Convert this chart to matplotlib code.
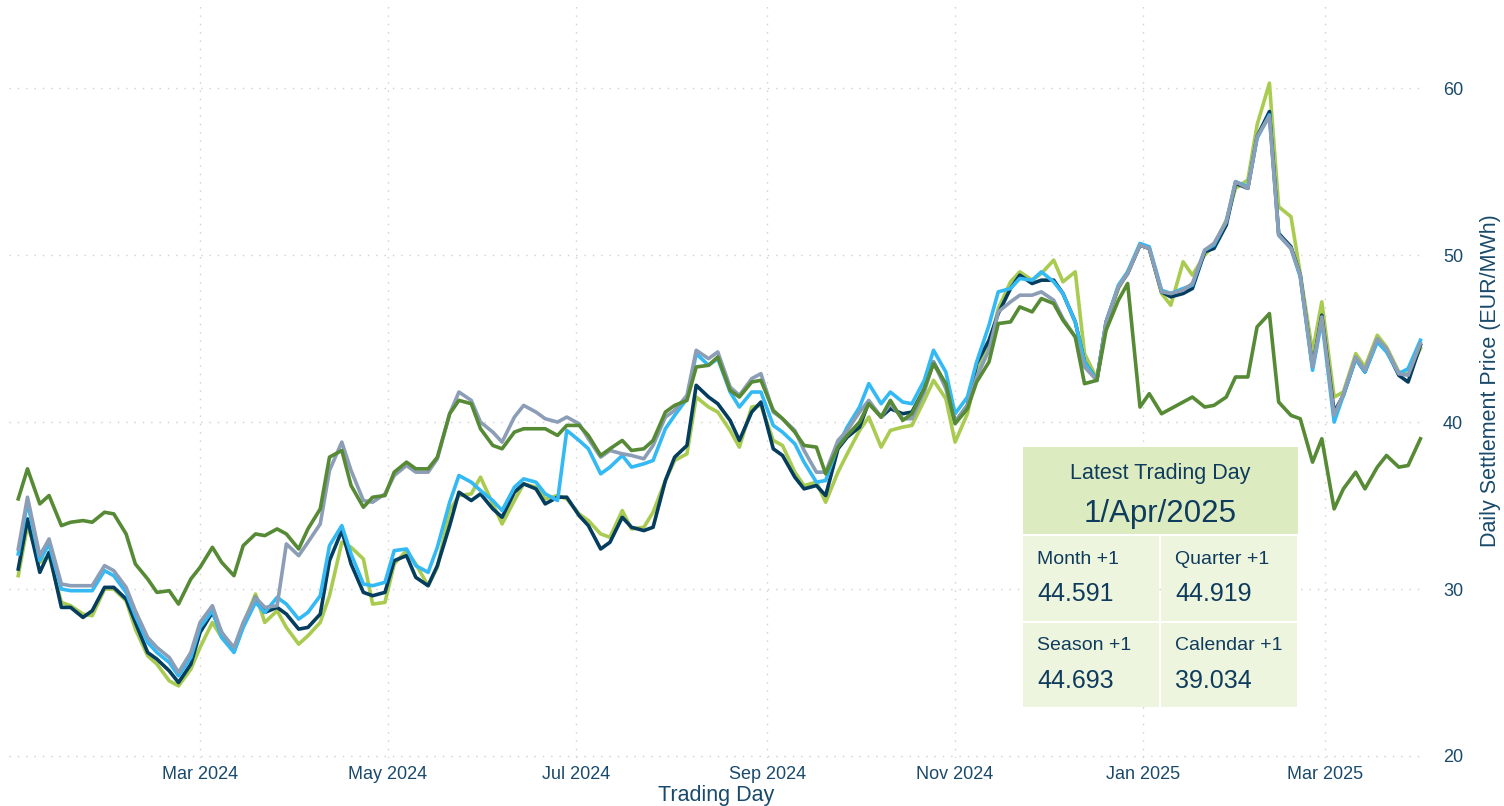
#!/usr/bin/env python3
"""Forward curve settlement prices with a latest-trading-day summary box."""

import matplotlib.pyplot as plt
import matplotlib.dates as mdates
import pandas as pd
from matplotlib.patches import Rectangle

# --- data: twice-weekly samples (Tue / Fri), Jan 2024 - Apr 2025 ---
TUESDAYS = pd.date_range("2024-01-02", "2025-04-01", freq="W-TUE")
FRIDAYS = pd.date_range("2024-01-05", "2025-03-28", freq="W-FRI")
DATES = TUESDAYS.union(FRIDAYS)
TICK_DATES = pd.date_range("2024-03-01", "2025-03-01", freq="2MS")

LIGHT_GREEN = [
    30.8, 33.8, 31.6, 32.0, 29.2, 29.0, 28.5, 28.4, 30.0, 30.0,
    29.3, 27.6, 26.0, 25.5, 24.5, 24.2, 25.2, 26.5, 28.0, 27.1,
    26.3, 27.9, 29.7, 28.0, 28.7, 27.7, 26.7, 27.2, 28.0, 29.6,
    32.8, 32.5, 31.8, 29.1, 29.2, 31.5, 32.3, 31.5, 30.2, 31.3,
    34.7, 35.6, 35.7, 36.7, 35.1, 33.9, 35.3, 36.3, 36.1, 35.4,
    35.6, 35.4, 34.5, 34.1, 33.3, 33.1, 34.7, 33.6, 33.7, 34.6,
    36.5, 37.7, 38.1, 41.5, 40.9, 40.6, 39.5, 38.5, 40.9, 41.0,
    38.9, 38.6, 37.0, 36.2, 36.4, 35.2, 37.0, 38.1, 39.5, 40.3,
    38.5, 39.5, 39.7, 39.8, 41.3, 42.5, 41.4, 38.8, 40.5, 43.0,
    44.5, 46.8, 48.4, 49.0, 48.5, 48.9, 49.7, 48.4, 49.0, 44.1,
    42.6, 45.8, 48.0, 49.0, 50.6, 50.4, 47.7, 47.0, 49.6, 48.8,
    50.0, 50.6, 52.1, 54.0, 54.5, 57.8, 60.3, 52.9, 52.3, 48.9,
    44.2, 47.2, 41.5, 41.8, 44.1, 43.3, 45.2, 44.5, 43.0, 42.9,
    44.4,
]
NAVY = [
    31.2, 34.2, 31.0, 32.2, 28.9, 28.9, 28.3, 28.7, 30.1, 30.1,
    29.4, 28.0, 26.2, 25.8, 25.1, 24.4, 25.5, 27.4, 28.6, 27.4,
    26.3, 27.8, 29.5, 28.6, 28.9, 28.5, 27.6, 27.7, 28.5, 31.7,
    33.5, 31.5, 29.8, 29.6, 29.8, 31.7, 32.0, 30.7, 30.2, 31.4,
    33.8, 35.8, 35.3, 35.7, 34.8, 34.3, 35.8, 36.3, 36.0, 35.1,
    35.5, 35.5, 34.4, 33.8, 32.4, 32.8, 34.3, 33.7, 33.5, 33.7,
    36.5, 37.9, 38.6, 42.2, 41.5, 41.1, 40.1, 38.9, 40.6, 41.2,
    38.4, 38.0, 36.7, 36.0, 36.2, 35.6, 38.4, 39.1, 39.7, 41.2,
    40.3, 40.8, 40.5, 40.6, 42.0, 43.6, 42.2, 40.0, 41.0, 43.5,
    44.9, 46.5, 48.0, 48.8, 48.3, 48.5, 48.5, 47.7, 46.0, 43.6,
    42.5, 46.0, 48.1, 48.9, 50.6, 50.4, 47.8, 47.5, 47.7, 48.0,
    50.2, 50.4, 51.8, 54.3, 54.0, 57.1, 58.6, 51.3, 50.5, 48.8,
    43.3, 46.4, 40.6, 41.6, 43.8, 43.0, 44.9, 44.3, 42.8, 42.4,
    44.6,
]
LIGHT_BLUE = [
    32.1, 35.2, 31.7, 32.7, 30.0, 29.9, 29.9, 29.9, 31.1, 30.8,
    29.8, 28.4, 26.8, 26.2, 25.6, 24.8, 25.9, 27.7, 28.7, 27.1,
    26.2, 27.7, 29.2, 28.6, 29.5, 29.1, 28.2, 28.6, 29.6, 32.6,
    33.8, 32.1, 30.3, 30.2, 30.4, 32.3, 32.4, 31.4, 31.0, 32.5,
    35.2, 36.8, 36.4, 35.9, 35.3, 34.7, 36.1, 36.6, 36.4, 35.7,
    35.3, 39.5, 38.9, 38.4, 36.9, 37.3, 38.0, 37.3, 37.5, 37.7,
    39.6, 40.4, 41.4, 44.1, 43.4, 43.8, 41.8, 40.9, 41.8, 41.8,
    39.8, 39.4, 38.7, 37.6, 36.4, 36.5, 38.6, 39.7, 40.9, 42.3,
    41.1, 41.8, 41.2, 41.1, 42.5, 44.3, 43.0, 40.5, 41.5, 43.6,
    45.8, 47.8, 48.0, 48.6, 48.5, 49.0, 48.4, 47.7, 46.0, 43.6,
    42.5, 46.0, 48.2, 49.0, 50.7, 50.5, 47.9, 47.7, 48.0, 48.2,
    50.3, 50.6, 52.0, 54.4, 54.1, 57.0, 58.4, 51.2, 50.4, 48.7,
    43.1, 46.1, 40.0, 41.6, 43.8, 43.0, 44.8, 44.2, 42.9, 43.2,
    44.9,
]
GREY_BLUE = [
    32.4, 35.5, 32.0, 33.0, 30.3, 30.2, 30.2, 30.2, 31.4, 31.1,
    30.1, 28.7, 27.1, 26.5, 25.9, 25.0, 26.2, 28.0, 29.0, 27.4,
    26.5, 28.0, 29.5, 28.9, 29.0, 32.7, 32.0, 32.8, 33.9, 37.1,
    38.8, 37.1, 35.3, 35.2, 35.7, 36.8, 37.4, 37.0, 37.0, 37.8,
    40.5, 41.8, 41.3, 40.0, 39.4, 38.8, 40.3, 41.0, 40.6, 40.2,
    40.0, 40.3, 39.9, 39.0, 37.9, 38.3, 38.1, 38.0, 37.8, 38.6,
    40.3, 40.7, 41.6, 44.3, 43.8, 44.2, 42.1, 41.6, 42.6, 42.9,
    40.6, 40.2, 39.5, 38.3, 37.0, 37.0, 38.9, 39.5, 40.6, 41.3,
    40.3, 41.1, 40.2, 40.2, 41.8, 43.6, 42.0, 40.0, 41.0, 42.7,
    44.3, 46.6, 47.2, 47.6, 47.6, 47.8, 47.3, 46.2, 45.1, 43.3,
    42.5, 46.0, 48.1, 48.9, 50.6, 50.4, 47.8, 47.7, 47.9, 48.3,
    50.3, 50.7, 52.0, 54.4, 54.0, 57.1, 58.3, 51.2, 50.4, 48.8,
    43.3, 46.3, 40.4, 41.7, 43.9, 43.1, 45.0, 44.4, 42.9, 42.8,
    44.7,
]
DARK_GREEN = [
    35.4, 37.2, 35.1, 35.6, 33.8, 34.0, 34.1, 34.0, 34.6, 34.5,
    33.3, 31.5, 30.6, 29.8, 29.9, 29.1, 30.6, 31.3, 32.5, 31.6,
    30.8, 32.6, 33.3, 33.2, 33.6, 33.3, 32.4, 33.6, 34.8, 37.9,
    38.3, 36.2, 34.9, 35.5, 35.6, 37.0, 37.6, 37.2, 37.2, 37.9,
    40.5, 41.3, 41.1, 39.6, 38.6, 38.4, 39.4, 39.6, 39.6, 39.6,
    39.2, 39.8, 39.8, 39.2, 38.0, 38.4, 38.9, 38.3, 38.4, 38.9,
    40.6, 41.0, 41.3, 43.3, 43.4, 43.9, 41.9, 41.5, 42.4, 42.5,
    40.7, 40.2, 39.4, 38.6, 38.5, 36.9, 38.5, 39.2, 40.0, 41.1,
    40.3, 41.3, 40.1, 40.5, 42.0, 43.5, 42.3, 39.9, 40.8, 42.4,
    43.6, 45.9, 46.0, 46.9, 46.6, 47.4, 47.1, 46.1, 45.1, 42.3,
    42.5, 45.5, 47.3, 48.3, 40.9, 41.7, 40.5, 40.8, 41.2, 41.5,
    40.9, 41.0, 41.5, 42.7, 42.7, 45.7, 46.5, 41.2, 40.4, 40.2,
    37.6, 39.0, 34.8, 36.0, 37.0, 36.0, 37.3, 38.0, 37.3, 37.4,
    39.0,
]

SERIES = [
    (LIGHT_GREEN, "#A9CB50"),
    (NAVY, "#053D5E"),
    (LIGHT_BLUE, "#33B9F4"),
    (GREY_BLUE, "#8C9DB6"),
    (DARK_GREEN, "#568A34"),
]

BOX_TITLE = "Latest Trading Day"
BOX_DATE = "1/Apr/2025"
BOX_LABELS = ["Month +1", "Quarter +1", "Season +1", "Calendar +1"]
BOX_VALUES = ["44.591", "44.919", "44.693", "39.034"]

TEXT = "#1A4A6B"
BOX_TEXT = "#0F3C5C"
W_PX, H_PX = 1504, 806


def fx(px):
    return px / W_PX


def fy(py):
    return 1 - py / H_PX


def main() -> None:
    plt.rcParams["font.family"] = ["Liberation Sans", "DejaVu Sans"]
    fig = plt.figure(figsize=(W_PX / 100, H_PX / 100), dpi=100)
    ax = fig.add_axes([fx(9), fy(758), fx(1423.5) - fx(9), fy(3) - fy(758)])

    for values, color in SERIES:
        ax.plot(DATES, values, color=color, lw=2.6, solid_joinstyle="round")

    ax.set_xlim(pd.Timestamp("2023-12-30"), pd.Timestamp("2025-04-02"))
    ax.set_ylim(19.88, 65.1)
    ax.set_xticks(TICK_DATES)
    ax.xaxis.set_major_formatter(mdates.DateFormatter("%b %Y"))
    ax.set_yticks([20, 30, 40, 50, 60])
    ax.yaxis.tick_right()
    ax.yaxis.set_label_position("right")
    ax.tick_params(axis="both", length=0, labelsize=13, labelcolor=TEXT)
    ax.tick_params(axis="x", pad=6)
    ax.tick_params(axis="y", pad=14)
    for s in ax.spines.values():
        s.set_visible(False)
    ax.grid(True, color="#CFCFCF", lw=1.0, linestyle=(0, (1, 5)))
    ax.set_axisbelow(True)
    ax.set_xlabel("Trading Day", fontsize=15.5, color=TEXT, labelpad=1)
    ax.set_ylabel("Daily Settlement Price (EUR/MWh)", fontsize=15.5,
                  color=TEXT, labelpad=12)

    # --- summary box ---
    def box(x0, y0, x1, y1, color):
        fig.patches.append(Rectangle((fx(x0), fy(y1)), fx(x1) - fx(x0),
                                     fy(y0) - fy(y1), transform=fig.transFigure,
                                     facecolor=color, edgecolor="none", zorder=5))

    box(1023, 447, 1298, 534, "#DDEBC1")
    cells = [(1023, 536, 1159, 621), (1161, 536, 1297, 621),
             (1023, 623, 1159, 707), (1161, 623, 1297, 707)]
    for (x0, y0, x1, y1) in cells:
        box(x0, y0, x1, y1, "#EEF5DE")

    fig.text(fx(1160), fy(474), BOX_TITLE, ha="center", va="center",
             fontsize=15.5, color=BOX_TEXT, zorder=6)
    fig.text(fx(1160), fy(514), BOX_DATE, ha="center", va="center",
             fontsize=22.5, color=BOX_TEXT, zorder=6)
    for (x0, y0, _, _), lab, val in zip(cells, BOX_LABELS, BOX_VALUES):
        fig.text(fx(x0 + 14), fy(y0 + 23), lab, ha="left", va="center",
                 fontsize=14, color=BOX_TEXT, zorder=6)
        fig.text(fx(x0 + 14), fy(y0 + 58), val, ha="left", va="center",
                 fontsize=18, color=BOX_TEXT, zorder=6)

    fig.savefig("out.png", dpi=100, facecolor="white")
    plt.close(fig)


if __name__ == "__main__":
    main()
